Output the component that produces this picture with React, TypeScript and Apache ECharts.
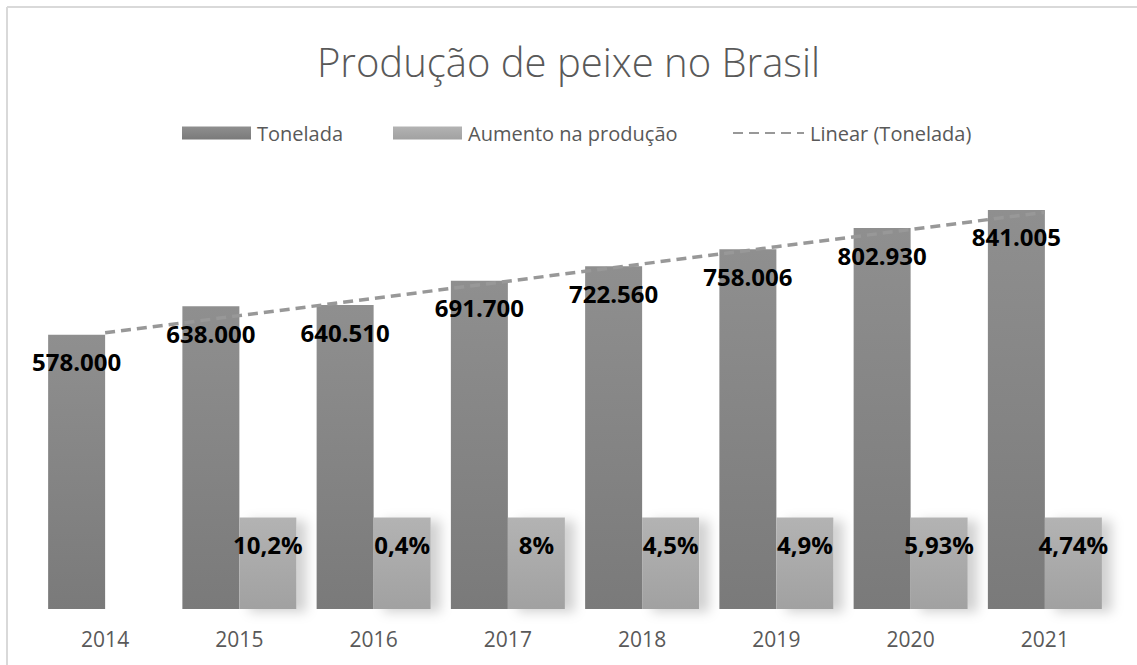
import React, { useEffect, useRef } from "react";
import * as echarts from "echarts";

const years = ["2014", "2015", "2016", "2017", "2018", "2019", "2020", "2021"];
const tonelada = [578000, 638000, 640510, 691700, 722560, 758006, 802930, 841005];
const aumentoLabels = ["", "10,2%", "0,4%", "8%", "4,5%", "4,9%", "5,93%", "4,74%"];
// bar heights of the "Aumento na produção" bars as drawn (all the same height)
const aumentoBars = [null, 193000, 193000, 193000, 193000, 193000, 193000, 193000];

const TITLE = "Produção de peixe no Brasil";
const SERIES_NAMES = ["Tonelada", "Aumento na produção", "Linear (Tonelada)"];
const FONT = "'Open Sans', 'Noto Sans', sans-serif";

function fmtBR(n: number): string {
  return String(n).replace(/\B(?=(\d{3})+(?!\d))/g, ".");
}

// Excel-style linear trendline (least squares) of the Tonelada series
function linearTrend(vals: number[]): number[] {
  const n = vals.length;
  const xm = (n - 1) / 2;
  const ym = vals.reduce((a, b) => a + b, 0) / n;
  let sxy = 0;
  let sxx = 0;
  vals.forEach((y, i) => {
    sxy += (i - xm) * (y - ym);
    sxx += (i - xm) * (i - xm);
  });
  const b = sxy / sxx;
  const a = ym - b * xm;
  return vals.map((_, i) => a + b * i);
}

export default function App() {
  const ref = useRef<HTMLDivElement>(null);

  useEffect(() => {
    if (!ref.current) return;
    const chart = echarts.init(ref.current, null, { renderer: "svg" });
    const darkGrad = new echarts.graphic.LinearGradient(0, 0, 0, 1, [
      { offset: 0, color: "#8f8f8f" },
      { offset: 1, color: "#7a7a7a" },
    ]);
    const lightGrad = new echarts.graphic.LinearGradient(0, 0, 0, 1, [
      { offset: 0, color: "#b3b3b3" },
      { offset: 1, color: "#a1a1a1" },
    ]);
    const trend = linearTrend(tonelada);

    const legendBase = {
      top: 123,
      padding: 0,
      itemWidth: 69,
      itemHeight: 13,
      textStyle: { fontFamily: FONT, fontSize: 20, color: "#595959", padding: [0, 0, 0, 1] },
    };

    chart.setOption({
      animation: false,
      backgroundColor: "#ffffff",
      textStyle: { fontFamily: FONT },
      title: {
        text: TITLE,
        left: "center",
        top: 36,
        textStyle: { fontFamily: FONT, fontSize: 40, fontWeight: 300, color: "#595959" },
      },
      legend: [
        { ...legendBase, left: 182, icon: "rect", data: [SERIES_NAMES[0]] },
        { ...legendBase, left: 393, icon: "rect", data: [SERIES_NAMES[1]] },
        {
          ...legendBase,
          left: 732,
          itemWidth: 71,
          data: [{ name: SERIES_NAMES[2], itemStyle: { opacity: 0 } }],
        },
      ],
      grid: { left: 38, right: 25, top: 182, bottom: 56 },
      xAxis: {
        type: "category",
        data: years,
        axisLine: { show: false },
        axisTick: { show: false },
        axisLabel: { color: "#595959", fontSize: 21, margin: 19, fontFamily: FONT },
      },
      yAxis: {
        type: "value",
        min: 0,
        max: 900000,
        show: false,
        splitLine: { show: false },
      },
      graphic: [
        {
          type: "line",
          shape: { x1: 7, y1: 7, x2: 1137, y2: 7 },
          style: { stroke: "#d9d9d9", lineWidth: 2 },
          silent: true,
        },
        {
          type: "line",
          shape: { x1: 7, y1: 7, x2: 7, y2: 665 },
          style: { stroke: "#d9d9d9", lineWidth: 2 },
          silent: true,
        },
      ],
      series: [
        {
          name: SERIES_NAMES[0],
          type: "bar",
          data: tonelada,
          barWidth: 57,
          barGap: "0%",
          itemStyle: { color: darkGrad },
          label: {
            show: true,
            position: "insideTop",
            distance: 15,
            formatter: (p: any) => fmtBR(p.value),
            fontFamily: FONT,
            fontSize: 24,
            fontWeight: "bold",
            color: "#000000",
          },
          z: 2,
        },
        {
          name: SERIES_NAMES[1],
          type: "bar",
          data: aumentoBars,
          barWidth: 57,
          barGap: "0%",
          itemStyle: {
            color: lightGrad,
            shadowColor: "rgba(0,0,0,0.18)",
            shadowBlur: 12,
            shadowOffsetX: 10,
            shadowOffsetY: 3,
          },
          label: {
            show: true,
            position: "insideTop",
            distance: 15,
            formatter: (p: any) => aumentoLabels[p.dataIndex],
            fontFamily: FONT,
            fontSize: 24,
            fontWeight: "bold",
            color: "#000000",
          },
          z: 2,
        },
        {
          name: SERIES_NAMES[2],
          type: "line",
          data: trend,
          symbol: "none",
          itemStyle: { color: "#989898" },
          lineStyle: { color: "#989898", width: 3.5, type: [10, 6] },
          z: 5,
        },
      ],
    });

    return () => chart.dispose();
  }, []);

  return (
    <div
      ref={ref}
      style={{ position: "absolute", left: 0, top: 0, width: 1137, height: 665, background: "#ffffff" }}
    />
  );
}
